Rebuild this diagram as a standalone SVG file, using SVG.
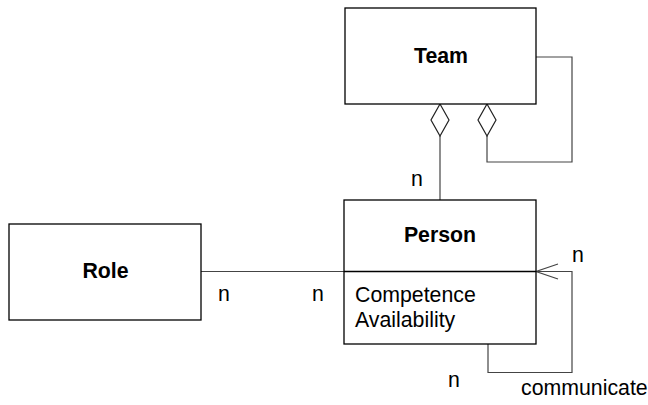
<svg xmlns="http://www.w3.org/2000/svg" width="648" height="405" viewBox="0 0 648 405">
<style>
.box{fill:#fff;stroke:#000;stroke-width:1.3}
.ln{fill:none;stroke:#444;stroke-width:1.2}
.dia{fill:#fff;stroke:#222;stroke-width:1.2}
text{font-family:"Liberation Sans",Arial,sans-serif;font-size:21.3px;fill:#000}
.b{font-weight:bold;text-anchor:middle}
</style>
<rect width="648" height="405" fill="#fff"/>
<g id="connectors">
<line class="ln" x1="201" y1="271.5" x2="344" y2="271.5"/>
<line class="ln" x1="440" y1="136" x2="440" y2="200"/>
<polyline class="ln" points="487,136 487,162 572,162 572,57 536,57"/>
<polyline class="ln" points="488,344 488,372.5 572,372.5 572,271.5 536,271.5"/>
<polyline class="ln" points="558,264 536,271.5 558,279"/>
<polygon class="dia" points="440,104 449,120 440,136 431,120"/>
<polygon class="dia" points="487,104 496,120 487,136 478,120"/>
<text x="411" y="186">n</text>
<text x="218" y="301">n</text>
<text x="312" y="301">n</text>
<text x="572" y="262">n</text>
<text x="448" y="387">n</text>
<text x="521" y="395">communicate</text>
</g>
<g id="team">
<rect class="box" x="345" y="8" width="191" height="96"/>
<text class="b" x="441" y="63">Team</text>
</g>
<g id="person">
<rect class="box" x="344" y="200" width="192" height="144"/>
<line class="box" x1="344" y1="271.5" x2="536" y2="271.5"/>
<text class="b" x="440" y="242">Person</text>
<text x="355" y="302">Competence</text>
<text x="355" y="327">Availability</text>
</g>
<g id="role">
<rect class="box" x="9" y="224" width="192" height="96"/>
<text class="b" x="105.5" y="278">Role</text>
</g>
</svg>
